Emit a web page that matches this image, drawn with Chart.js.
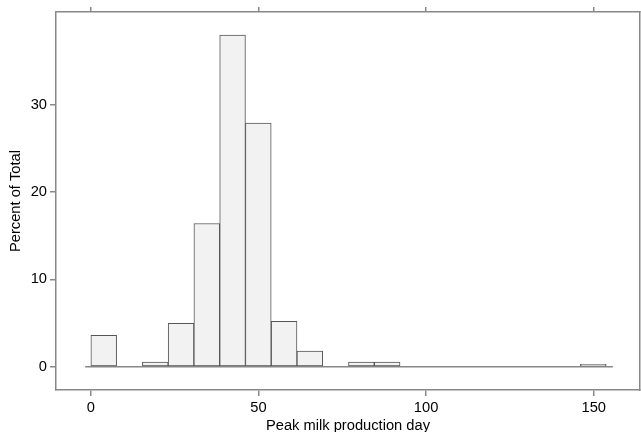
<!DOCTYPE html>
<html>
<head>
<meta charset="utf-8">
<script src="https://cdn.jsdelivr.net/npm/chart.js@4/dist/chart.umd.min.js"></script>
<style>
  body { margin: 0; background: #fff; }
  #wrap { width: 641px; height: 432px; }
</style>
</head>
<body>
<div id="wrap"><canvas id="grafico"></canvas></div>
<script>
// bin centres (days) and percent of total per bin
const binCenters = [3.84, 11.53, 19.21, 26.9, 34.58, 42.27, 49.95, 57.64, 65.32, 73.01,
  80.69, 88.38, 96.06, 103.75, 111.43, 119.12, 126.8, 134.49, 142.17, 149.86];
const percent = [3.6, 0, 0.54, 4.96, 16.4, 38.0, 27.9, 5.2, 1.8, 0,
  0.54, 0.54, 0, 0, 0, 0, 0, 0, 0, 0.27];
const xTicks = [0, 50, 100, 150];
const yTicks = [0, 10, 20, 30];
const baseX = [-1.7, 155.7];

const cinza = "#888888";
const fonte = { family: "'Liberation Sans', Arial, sans-serif", size: 14.7 };

let barras = [];
for (let i = 0; i < binCenters.length; i++) {
  barras.push({ x: binCenters[i], y: percent[i] });
}
let linhaBase = [];
for (let i = 0; i < baseX.length; i++) {
  linhaBase.push({ x: baseX[i], y: 0 });
}

function fixTicks(lista) {
  return function (s) {
    s.ticks = lista.map((v) => ({ value: v }));
  };
}

new Chart(document.getElementById("grafico"), {
  type: "bar",
  data: {
    datasets: [
      {
        type: "line",
        data: linhaBase,
        borderColor: cinza,
        borderWidth: 1.5,
        pointRadius: 0,
        xAxisID: "x",
        yAxisID: "y",
        order: 2,
      },
      {
        type: "bar",
        data: barras,
        backgroundColor: "#f2f2f2",
        borderColor: "#555555",
        borderWidth: 1,
        borderSkipped: false,
        barPercentage: 1,
        categoryPercentage: 1,
        xAxisID: "x",
        yAxisID: "y",
        order: 1,
      },
    ],
  },
  options: {
    responsive: true,
    maintainAspectRatio: false,
    animation: false,
    layout: { padding: 0 },
    plugins: {
      legend: { display: false },
      tooltip: { enabled: false },
    },
    scales: {
      x: {
        type: "linear",
        position: "bottom",
        offset: false,
        min: -10.4,
        max: 163.8,
        afterBuildTicks: fixTicks(xTicks),
        afterFit: (s) => { s.height = 42; },
        grid: { offset: false, drawOnChartArea: false, drawTicks: true, tickLength: 6, color: cinza, lineWidth: 1.5 },
        border: { display: true, color: cinza, width: 1.5 },
        ticks: { color: "#000", font: fonte, padding: 3, maxRotation: 0 },
        title: {
          display: true,
          text: "Peak milk production day",
          color: "#000",
          font: fonte,
          padding: { top: 0, bottom: -3 },
        },
      },
      xTop: {
        type: "linear",
        position: "top",
        offset: false,
        min: -10.4,
        max: 163.8,
        afterBuildTicks: fixTicks(xTicks),
        afterFit: (s) => { s.height = 12; },
        grid: { offset: false, drawOnChartArea: false, drawTicks: true, tickLength: 5, color: cinza, lineWidth: 1.5 },
        border: { display: true, color: cinza, width: 1.5 },
        ticks: { display: false },
      },
      y: {
        type: "linear",
        position: "left",
        min: -2.67,
        max: 40.63,
        afterBuildTicks: fixTicks(yTicks),
        afterFit: (s) => { s.width = 56; },
        grid: { drawOnChartArea: false, drawTicks: true, tickLength: 6, color: cinza, lineWidth: 1.5 },
        border: { display: true, color: cinza, width: 1.5 },
        ticks: { color: "#000", font: fonte, padding: 3 },
        title: {
          display: true,
          text: "Percent of Total",
          color: "#000",
          font: fonte,
          padding: { top: 7, bottom: 0 },
        },
      },
      yRight: {
        type: "linear",
        position: "right",
        min: -2.67,
        max: 40.63,
        afterFit: (s) => { s.width = 1; },
        grid: { display: false },
        border: { display: true, color: cinza, width: 1.5 },
        ticks: { display: false },
      },
    },
  },
});
</script>
</body>
</html>
